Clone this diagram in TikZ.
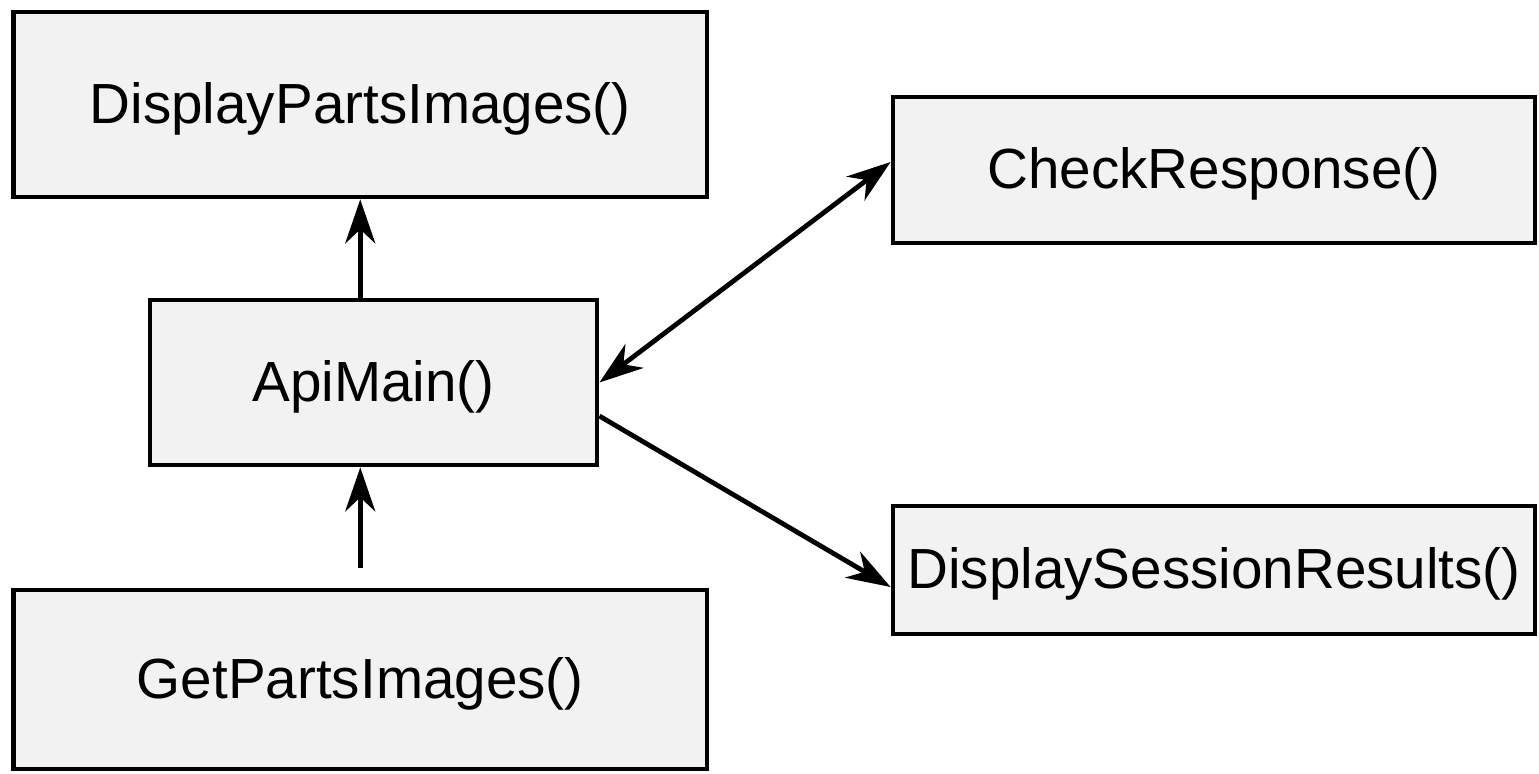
\documentclass[tikz,border=0pt]{standalone}
\usepackage{fontspec}
\setmainfont{Liberation Sans}
\usetikzlibrary{arrows.meta}
\definecolor{boxfill}{RGB}{242,242,242}

\begin{document}
\begin{tikzpicture}[x=0.5pt, y=-0.5pt, >={Stealth[length=22pt, width=15pt, inset=7pt]},
		func/.style={draw, line width=2.4pt, fill=boxfill, inner sep=0pt, text height=20.6pt, text depth=2pt, font=\fontsize{28.3}{34}\selectfont},
		call/.style={->, line width=2.4pt}]
		\useasboundingbox (0,0) rectangle (1539,774);
		\node[func, minimum width=346.75pt, minimum height=92.5pt] (show) at (360.25,104.5) {DisplayPartsImages()};
		\node[func, minimum width=223.5pt, minimum height=82.5pt] (api) at (373.5,382.5) {ApiMain()};
		\node[func, minimum width=346.75pt, minimum height=89.5pt] (get) at (360.25,679.5) {GetPartsImages()};
		\node[func, minimum width=321pt, minimum height=73pt] (check) at (1214,170) {CheckResponse()};
		\node[func, minimum width=321pt, minimum height=64pt] (results) at (1214,570) {DisplaySessionResults()};
		%%
		\draw[call] (api.north -| show.south) -- (show.south);
		\draw[call, shorten <=10pt] (get.north) -- (get.north |- api.south);
		\draw[call, <->] (api.east) -- ([yshift=4pt]check.west);
		\draw[call] ([yshift=-16.75pt]api.east) -- ([yshift=-8.5pt]results.west);
\end{tikzpicture}
\end{document}
